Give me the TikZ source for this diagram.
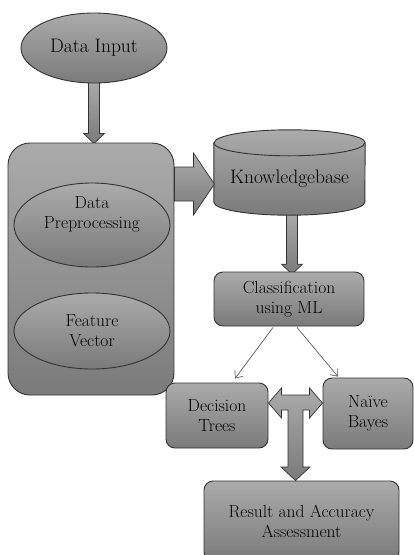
\documentclass[tikz,border=0pt]{standalone}
\usepackage{fontspec}
\usetikzlibrary{arrows,arrows.meta,backgrounds,shapes,calc}
\newcommand{\bigtxt}{\fontsize{19.5}{21}\selectfont}
\newcommand{\smalltxt}{\fontsize{17.5}{20}\selectfont}

\begin{document}
\begin{tikzpicture}[x=1pt, y=-1pt]
\tikzstyle{grey}=[draw=black!80, line width=0.9pt, top color=black!33, bottom color=black!52]
\tikzstyle{main}=[ellipse, grey, inner sep=0pt, align=center, font=\smalltxt]
\tikzstyle{rect}=[rectangle, grey, rounded corners=9pt, inner sep=0pt, align=center, font=\smalltxt]
\tikzstyle{fat}=[grey, line width=0.7pt]
\tikzstyle{connect}=[-{Straight Barb[length=6pt, width=10pt]}, draw=black!65, line width=0.7pt]
\tikzstyle{txt}=[align=center, font=\smalltxt]

  \useasboundingbox (0,0) rectangle (414,555);

  \node[main, minimum width=146pt, minimum height=70pt, font=\bigtxt] (input) at (94,48) {Data Input};

  \node[rect, rounded corners=22pt, minimum width=166pt, minimum height=252pt] (prepbox) at (91,269) {};
  \node[main, minimum width=156pt, minimum height=84pt] (prep) at (92,225) {};
  \node[txt] at ([yshift=11pt]prep.center) {Data\\Preprocessing};
  \node[main, minimum width=156pt, minimum height=76pt] (feat) at (92,331) {Feature\\Vector};

  \node[inner sep=0pt, minimum width=151pt, minimum height=72pt, font=\bigtxt] (kb) at (289.5,179) {Knowledgebase};

  \node[rect, minimum width=150pt, minimum height=54pt]  (cls) at (289,299)     {Classification\\using ML};
  \node[rect, minimum width=102pt, minimum height=65pt]  (dt)  at (217,415.5)   {Decision\\Trees};
  \node[rect, minimum width=90pt,  minimum height=71pt]  (nb)  at (368,413.5)   {Naïve\\Bayes};
  \node[rect, minimum width=195pt, minimum height=80pt]  (res) at (301.5,521)   {Result and Accuracy\\Assessment};

  \coordinate (tc) at (295.5,403);

  % block arrows and the database drum
  \begin{scope}[on background layer]
  \draw[fat] ($(input.south)+(-5.5,-3)$) -- ($(input.south)+(-5.5,50)$) -- ++(-5,0)
    -- ($(input.south)+(0,60)$) -- ($(input.south)+(10.5,50)$) -- ++(-5,0)
    -- ($(input.south)+(5.5,-3)$) -- cycle;
  \draw[fat] ($(kb.south)+(-3,-3)$) -- ($(kb.south)+(-3,49)$) -- ++(-5,0)
    -- ($(kb.south)+(2.5,59)$) -- ($(kb.south)+(13,49)$) -- ++(-5,0)
    -- ($(kb.south)+(8,-3)$) -- cycle;
  \draw[grey] (kb.north west) -- ($(kb.south west)+(0,-13)$)
    arc[start angle=180, end angle=0, x radius=75.5, y radius=13]
    -- (kb.north east) arc[start angle=0, end angle=-180, x radius=75.5, y radius=13] -- cycle;
  \draw[draw=black!80, line width=0.9pt] (kb.north west)
    arc[start angle=180, end angle=0, x radius=75.5, y radius=13];
  \end{scope}
  \draw[fat] ($(prepbox.north east)+(0,24.5)$) -- ++(19,0) -- ++(0,-14)
    -- ($(prepbox.north east)+(40,41.5)$) -- ($(prepbox.north east)+(19,72.5)$) -- ++(0,-14)
    -- ($(prepbox.north east)+(0,58.5)$) -- cycle;

  \draw[fat] (dt.east |- tc) -- ($(tc)+(-14,-15)$) -- ($(tc)+(-14,-8)$) -- ($(tc)+(14,-8)$)
    -- ($(tc)+(14,-15)$) -- (nb.west |- tc) -- ($(tc)+(14,15)$) -- ($(tc)+(14,7)$)
    -- ($(tc)+(7.5,7)$) -- ($(tc)+(7.5,64)$) -- ($(tc)+(14.5,64)$) -- (res.north -| tc)
    -- ($(tc)+(-14.5,64)$) -- ($(tc)+(-7.5,64)$) -- ($(tc)+(-7.5,7)$) -- ($(tc)+(-14,7)$)
    -- ($(tc)+(-14,15)$) -- cycle;

  % thin arrows
  \draw[connect] ($(cls.south)+(-16,1)$) -- ($(dt.north)+(18,-4)$);
  \draw[connect] ($(cls.south)+(8,1)$) -- ($(nb.north)+(-30,-1)$);

\end{tikzpicture}
\end{document}
